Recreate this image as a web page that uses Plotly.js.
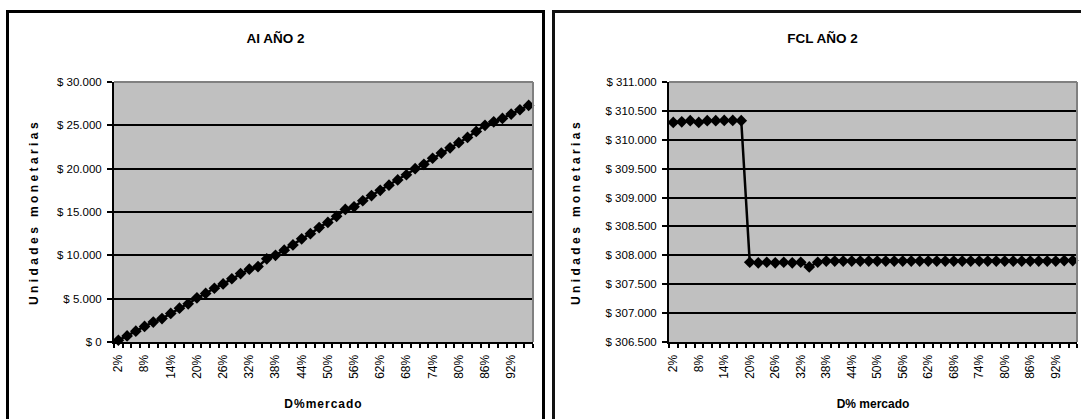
<!DOCTYPE html>
<html>
<head>
<meta charset="utf-8">
<script src="https://cdn.plot.ly/plotly-3.0.1.min.js"></script>
<style>
  html, body { margin: 0; padding: 0; background: #ffffff; width: 1081px; height: 419px; overflow: hidden; }
  .box { position: absolute; top: 10px; height: 420px; border: 3px solid #000; background: #fff; }
  #aiChart { left: 6px; width: 533px; }
  #fclChart { left: 552px; width: 535px; border-color: #111; }
  /* Axis titles are set with loose letter spacing */
  .ytitle { letter-spacing: 3.4px; }
  #aiChart .xtitle { letter-spacing: 1px; }
</style>
</head>
<body>
<div id="aiChart" class="box"></div>
<div id="fclChart" class="box"></div>
<script>
// Market share scenarios, 2% to 96% in steps of 2
const shares = [];
for (let p = 2; p <= 96; p += 2) shares.push(p + '%');

// Only every third category carries a label
const shareLabels = shares.map((s, i) => (i % 3 === 0 ? s : ''));

// AI for year 2 at each market share
const aiYear2 = [
  200, 700, 1250, 1800, 2300, 2700, 3300, 3900, 4400, 5100,
  5600, 6200, 6700, 7300, 7900, 8400, 8700, 9600, 10000, 10600,
  11200, 11900, 12500, 13200, 13800, 14500, 15300, 15600, 16300, 16900,
  17500, 18100, 18700, 19300, 20000, 20500, 21200, 21800, 22400, 23000,
  23600, 24300, 25000, 25400, 25800, 26300, 26800, 27300
];

// Free cash flow for year 2 at each market share
const fclYear2 = [
  310300, 310310, 310330, 310300, 310330, 310330, 310335, 310335, 310330,
  307880, 307870, 307880, 307870, 307880, 307870, 307880, 307800, 307880,
  307900, 307900, 307900, 307900, 307900, 307900, 307900, 307900, 307900,
  307900, 307900, 307900, 307900, 307900, 307900, 307900, 307900, 307900,
  307900, 307900, 307900, 307900, 307900, 307900, 307900, 307900, 307900,
  307900, 307910, 307910
];

const FONT = 'Arial, "Liberation Sans", sans-serif';

function buildLayout(title, xTitle, yRange, yTitleStandoff, width, marginL, marginR) {
  return {
    width: width,
    height: 420,
    margin: { l: marginL, r: marginR, t: 69, b: 91 },
    paper_bgcolor: '#ffffff',
    plot_bgcolor: '#C0C0C0',
    separators: ',.',
    showlegend: false,
    font: { family: FONT, color: '#000' },
    title: {
      text: '<b>' + title + '</b>',
      font: { family: FONT, size: 13.5, color: '#000' },
      x: 0.5, xref: 'container', xanchor: 'center',
      y: 1 - 25 / 420, yref: 'container', yanchor: 'middle'
    },
    xaxis: {
      type: 'category',
      tickmode: 'array',
      tickvals: shares,
      ticktext: shareLabels,
      tickangle: -90,
      ticks: 'outside',
      tickson: 'boundaries',
      ticklen: 4,
      tickwidth: 2,
      tickcolor: '#000',
      ticklabelstandoff: 6,
      tickfont: { family: FONT, size: 12, color: '#000' },
      showline: true,
      linecolor: '#000',
      linewidth: 2,
      showgrid: false,
      zeroline: false,
      range: [-0.5, shares.length - 0.5],
      fixedrange: true,
      title: {
        text: '<b>' + xTitle + '</b>',
        font: { family: FONT, size: 12, color: '#000' },
        standoff: 22
      }
    },
    yaxis: {
      range: yRange.slice(0, 2),
      dtick: yRange[2],
      tick0: yRange[0],
      tickprefix: '$ ',
      tickformat: ',d',
      ticks: 'outside',
      ticklen: 5,
      tickwidth: 2,
      tickcolor: '#000',
      ticklabelstandoff: 3,
      tickfont: { family: FONT, size: 11.5, color: '#000' },
      showline: true,
      linecolor: '#000',
      linewidth: 2,
      showgrid: true,
      gridcolor: '#000',
      gridwidth: 2,
      zeroline: false,
      fixedrange: true,
      title: {
        text: '<b>Unidades monetarias</b>',
        font: { family: FONT, size: 12, color: '#000' },
        standoff: yTitleStandoff
      }
    },
    shapes: [
      { type: 'line', xref: 'paper', yref: 'paper', x0: 0, x1: 1, y0: 1, y1: 1,
        line: { color: '#808080', width: 2 }, layer: 'above' },
      { type: 'line', xref: 'paper', yref: 'paper', x0: 1, x1: 1, y0: 0, y1: 1,
        line: { color: '#808080', width: 2 }, layer: 'above' }
    ]
  };
}

function seriesTrace(values) {
  return {
    type: 'scatter',
    mode: 'lines+markers',
    x: shares,
    y: values,
    line: { color: '#000', width: 2.5 },
    marker: { symbol: 'diamond', size: 9, color: '#000' },
    cliponaxis: false,
    hoverinfo: 'x+y'
  };
}

const config = { displayModeBar: false, staticPlot: true };

Plotly.newPlot('aiChart', [seriesTrace(aiYear2)],
  buildLayout('AI AÑO 2', 'D%mercado', [0, 30000, 5000], 16, 533, 105, 9), config);

Plotly.newPlot('fclChart', [seriesTrace(fclYear2)],
  buildLayout('FCL AÑO 2', 'D% mercado', [306500, 311000, 500], 22, 535, 114, 13), config);
</script>
</body>
</html>
